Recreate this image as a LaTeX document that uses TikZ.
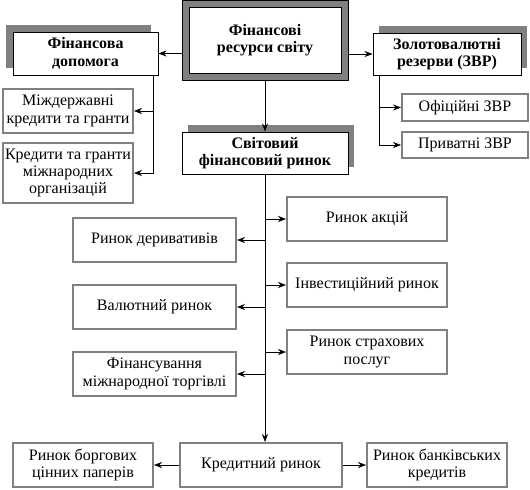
\documentclass[tikz,border=0pt]{standalone}
\usepackage{fontspec}
\setmainfont{Liberation Serif}[BoldFont={Liberation Serif Bold}]
\usetikzlibrary{arrows.meta,shadows}
\definecolor{framegray}{HTML}{808080}

\tikzset{
  arr/.style={-{Stealth[length=6pt,width=4.5pt,inset=2pt]}},
  sz/.style 2 args={minimum width=#1*0.75pt, minimum height=#2*0.75pt},
  box/.style={draw=framegray, line width=1.5pt, fill=white, align=center, inner sep=1pt,
    font=\fontsize{12}{13}\selectfont},
  headbox/.style={draw=black, line width=0.75pt, fill=white, align=center, inner sep=1pt,
    font=\bfseries\fontsize{12}{13}\selectfont},
  shadowl/.style={drop shadow={shadow xshift=-5pt, shadow yshift=5pt, opacity=1, fill=framegray}},
  shadowr/.style={drop shadow={shadow xshift=4.5pt, shadow yshift=5pt, opacity=1, fill=framegray}},
  topbox/.style={headbox, double=framegray, double distance=4.5pt, outer sep=3pt}
}

\begin{document}
\begin{tikzpicture}[x=0.75pt, y=-0.75pt]
  \useasboundingbox (0,0) rectangle (530,489);

  % head boxes
  \node[topbox, sz={159}{73}] (res) at (265,40.5) {Фінансові\\ресурси світу};
  \node[headbox, shadowl, sz={145}{43}] (dop) at (85.5,53.5) {Фінансова\\допомога};
  \node[headbox, shadowr, sz={148}{42}] (zvr) at (447,54) {Золотовалютні\\резерви (ЗВР)};
  \node[headbox, shadowr, sz={166}{42}] (rynok) at (265,153) {Світовий\\фінансовий ринок};

  % help
  \node[box, sz={130}{44}] (mizh) at (68,111) {Міждержавні\\кредити та гранти};
  \node[box, sz={130}{60}] (gran) at (68,173) {Кредити та гранти\\міжнародних\\організацій};

  % reserves
  \node[box, sz={126}{27}] (ofic) at (465,107.5) {Офіційні ЗВР};
  \node[box, sz={126}{26}] (priv) at (465,145) {Приватні ЗВР};

  % markets
  \node[box, sz={160}{44}] (akc) at (367,219) {Ринок акцій};
  \node[box, sz={160}{44}] (inv) at (367,285) {Інвестиційний ринок};
  \node[box, sz={160}{44}] (strah) at (367,352) {Ринок страхових\\послуг};
  \node[box, sz={163}{44}] (deriv) at (154.5,240) {Ринок деривативів};
  \node[box, sz={163}{44}] (val) at (154.5,307) {Валютний ринок};
  \node[box, sz={163}{44}] (torg) at (154.5,374) {Фінансування\\міжнародної торгівлі};

  % credit
  \node[box, sz={162}{44}] (kred) at (261,465) {Кредитний ринок};
  \node[box, sz={140}{44}] (borg) at (83,465) {Ринок боргових\\цінних паперів};
  \node[box, sz={140}{44}] (bank) at (437,465) {Ринок банківських\\кредитів};

  % connectors
  \draw[arr] (res.west |- dop.east) -- (dop.east);
  \draw[arr] (res.east |- zvr.west) -- (zvr.west);
  \draw[arr] (res.south) -- (rynok.north);

  \coordinate (dd) at ([xshift=-3.75pt]dop.south east);
  \draw[arr] (dd) |- (mizh.east);
  \draw[arr] (dd) |- (gran.east);

  \coordinate (zd) at ([xshift=5pt]zvr.south west);
  \draw[arr] (zd) |- (ofic.west);
  \draw[arr] (zd) |- (priv.west);

  \draw[arr] (rynok.south) -- (rynok.south |- kred.north);
  \foreach \m in {akc,inv,strah}
    \draw[arr] (rynok.south |- \m.west) -- (\m.west);
  \foreach \m in {deriv,val,torg}
    \draw[arr] (rynok.south |- \m.east) -- (\m.east);

  \draw[arr] (kred.west) -- (borg.east);
  \draw[arr] (kred.east) -- (bank.west);
\end{tikzpicture}
\end{document}
